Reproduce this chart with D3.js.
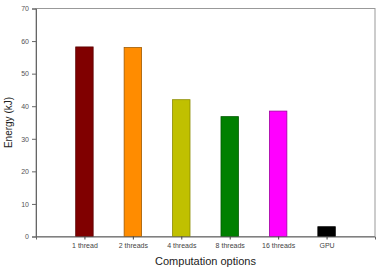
<!DOCTYPE html>
<html>
<head>
<meta charset="utf-8">
<script src="https://cdn.jsdelivr.net/npm/d3@7"></script>
<style>
  html, body { margin: 0; padding: 0; background: #fff; }
  svg { display: block; }
  text { font-family: "Liberation Sans", Arial, sans-serif; }
</style>
</head>
<body>
<svg id="chart" width="378" height="267"></svg>
<script>
const categories = ["1 thread", "2 threads", "4 threads", "8 threads", "16 threads", "GPU"];
const energy = [58.2, 58.0, 42.0, 36.8, 38.5, 3.0];
const colors = ["#800000", "#ff8c00", "#c0c000", "#008000", "#ff00ff", "#000000"];
const strokes = ["#5a0000", "#a05a00", "#8a8a00", "#005a00", "#a000a0", "#000000"];
const yTicks = [0, 10, 20, 30, 40, 50, 60, 70];

const W = 378, H = 267;
const m = { left: 36, right: 3, top: 8.5, bottom: 30.5 };
const svg = d3.select("#chart");

const x = d3.scaleLinear().domain([0, categories.length + 1]).range([m.left, W - m.right]);
const y = d3.scaleLinear().domain([0, 70]).range([H - m.bottom, m.top]);
const barW = 0.36;

// frame
svg.append("rect")
  .attr("x", x(0)).attr("y", y(70))
  .attr("width", x(7) - x(0)).attr("height", y(0) - y(70))
  .attr("fill", "none").attr("stroke", "#999").attr("stroke-width", 1);

// bars
svg.append("g").selectAll("rect").data(energy).join("rect")
  .attr("x", (d, i) => x(i + 1 - barW / 2))
  .attr("width", (d, i) => x(i + 1 + barW / 2) - x(i + 1 - barW / 2))
  .attr("y", d => y(d))
  .attr("height", d => y(0) - y(d))
  .attr("fill", (d, i) => colors[i])
  .attr("stroke", (d, i) => strokes[i])
  .attr("stroke-width", 0.8);

// y axis
const yAxis = svg.append("g")
  .attr("transform", `translate(${x(0)},0)`)
  .call(d3.axisLeft(y).tickValues(yTicks).tickSize(4).tickPadding(3));
yAxis.select(".domain").attr("stroke", "#666");
yAxis.selectAll(".tick line").attr("stroke", "#666");
yAxis.selectAll(".tick text").attr("fill", "#555").style("font-size", "7px");

// x axis
const xAxis = svg.append("g")
  .attr("transform", `translate(0,${y(0)})`)
  .call(d3.axisBottom(x).tickValues(d3.range(1, categories.length + 1))
    .tickFormat(d => categories[d - 1]).tickSize(3).tickPadding(4));
xAxis.select(".domain").attr("stroke", "#666");
xAxis.selectAll(".tick line").attr("stroke", "#444");
xAxis.selectAll(".tick text").attr("fill", "#444").style("font-size", "7px");

// axis titles
svg.append("text")
  .attr("transform", `translate(12,${(y(0) + y(70)) / 2}) rotate(-90)`)
  .attr("text-anchor", "middle")
  .attr("fill", "#222")
  .style("font-size", "10px")
  .text("Energy (kJ)");

svg.append("text")
  .attr("x", (x(0) + x(7)) / 2)
  .attr("y", 265)
  .attr("text-anchor", "middle")
  .attr("fill", "#222")
  .style("font-size", "11px")
  .text("Computation options");
</script>
</body>
</html>
